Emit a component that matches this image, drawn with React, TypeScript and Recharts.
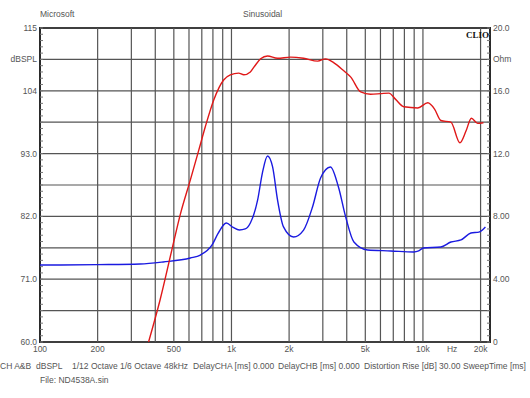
import React from "react";
import {
  LineChart,
  Line,
  XAxis,
  YAxis,
  ReferenceLine,
  ReferenceArea,
} from "recharts";

// SPL response (red), dBSPL on the left axis
const splFreq = [
  369, 424, 488, 541, 610, 675, 730, 808, 910, 986, 1090, 1160, 1255, 1320,
  1420, 1543, 1740, 2035, 2380, 2820, 3100, 3430, 3860, 4200, 4730, 5330, 6000,
  6640, 7200, 7950, 9400, 10600, 11500, 12400, 14000, 15600, 16800, 17900,
  19300, 20700,
];
const splValues = [
  60.0, 67.4, 76.1, 82.4, 88.4, 93.6, 97.7, 102.4, 105.9, 106.8, 107.1, 106.8,
  107.3, 108.3, 109.6, 110.1, 109.7, 109.9, 109.7, 109.2, 109.6, 108.9, 107.5,
  106.4, 103.8, 103.4, 103.5, 103.6, 102.5, 101.2, 101.0, 101.9, 100.8, 98.8,
  98.5, 94.9, 97.0, 99.2, 98.3, 98.4,
];

// impedance (blue), Ohm on the right axis
const impFreq = [
  100, 200, 333, 440, 610, 688, 792, 850, 940, 1020, 1100, 1180, 1255, 1370,
  1450, 1543, 1640, 1740, 1870, 2110, 2380, 2650, 2920, 3290, 3620, 3950, 4360,
  5140, 6800, 8950, 9500, 10060, 12400, 14000, 15800, 17800, 19600, 21200,
];
const impValues = [
  4.9, 4.93, 4.97, 5.1, 5.35, 5.54, 6.18, 6.9, 7.58, 7.3, 7.13, 7.2, 7.58,
  9.05, 10.76, 11.85, 11.15, 9.05, 7.33, 6.69, 7.13, 8.6, 10.45, 11.15, 9.87,
  7.96, 6.37, 5.86, 5.8, 5.73, 5.8, 5.99, 6.05, 6.37, 6.5, 6.94, 7.0, 7.33,
];

const xTicks = [100, 200, 500, 1000, 2000, 5000, 10000, 14200, 20000];
const xLabels = ["100", "200", "500", "1k", "2k", "5k", "10k", "Hz", "20k"];
const xGrid = [
  200, 300, 400, 500, 600, 700, 800, 900, 1000, 2000, 3000, 4000, 5000, 6000,
  7000, 8000, 9000, 10000, 20000,
];

const dbTicks = [60, 65.5, 71, 76.5, 82, 87.5, 93, 98.5, 104, 109.5, 115];
const dbLabels = ["60.0", "", "71.0", "", "82.0", "", "93.0", "", "104", "dBSPL", "115"];
const ohmTicks = [0, 2, 4, 6, 8, 10, 12, 14, 16, 18, 20];
const ohmLabels = ["0", "", "4.00", "", "8.00", "", "12.0", "", "16.0", "Ohm", "20.0"];

// small inward ticks, five per grid division
const dbMinor = Array.from({ length: 51 }, (_, i) => 60 + i * 1.1);
const ohmMinor = Array.from({ length: 51 }, (_, i) => i * 0.4);

const infoItems = [
  { text: "CH A&B", left: 0 },
  { text: "dBSPL", left: 36 },
  { text: "1/12 Octave", left: 72 },
  { text: "1/6 Octave", left: 120 },
  { text: "48kHz", left: 164 },
  { text: "DelayCHA [ms] 0.000", left: 193 },
  { text: "DelayCHB [ms] 0.000", left: 278 },
  { text: "Distortion Rise [dB] 30.00", left: 364 },
  { text: "SweepTime [ms]", left: 463 },
];

const splData = splFreq.map((f, i) => ({ f, v: splValues[i] }));
const impData = impFreq.map((f, i) => ({ f, v: impValues[i] }));

const font = '"Liberation Sans", Arial, sans-serif';
const textColor = "#555";
const gridColor = "#555";
const tickStyle = { fontSize: 8.5, fill: textColor, fontFamily: font };

function lookup(ticks: number[], labels: string[]) {
  return (v: number) => {
    const i = ticks.findIndex((t) => Math.abs(t - v) < 1e-6);
    return i >= 0 ? labels[i] : "";
  };
}

export default function App() {
  const txt = (left: number, top: number, s: string, extra = {}) => (
    <div
      key={s}
      style={{
        position: "absolute",
        left,
        top,
        fontSize: 8.5,
        lineHeight: "10px",
        color: textColor,
        whiteSpace: "nowrap",
        fontFamily: font,
        ...extra,
      }}
    >
      {s}
    </div>
  );

  return (
    <div
      style={{
        position: "absolute",
        left: 0,
        top: 0,
        width: 530,
        height: 398,
        background: "#fff",
        overflow: "hidden",
      }}
    >
      <LineChart
        width={530}
        height={398}
        margin={{ top: 28, right: 0, bottom: 26, left: 0 }}
      >
        <XAxis
          dataKey="f"
          type="number"
          scale="log"
          domain={[100, 22400]}
          allowDataOverflow
          ticks={xTicks}
          tickFormatter={lookup(xTicks, xLabels)}
          tick={tickStyle}
          tickLine={false}
          axisLine={false}
          tickSize={0}
          tickMargin={4}
          height={30}
          interval={0}
        />
        <YAxis
          yAxisId="db"
          orientation="left"
          domain={[60, 115]}
          ticks={dbMinor}
          tickFormatter={lookup(dbTicks, dbLabels)}
          tick={tickStyle}
          tickLine={{ stroke: "#777" }}
          axisLine={false}
          tickSize={-3}
          tickMargin={6}
          width={40}
          interval={0}
          allowDataOverflow
        />
        <YAxis
          yAxisId="ohm"
          orientation="right"
          domain={[0, 20]}
          ticks={ohmMinor}
          tickFormatter={lookup(ohmTicks, ohmLabels)}
          tick={tickStyle}
          tickLine={{ stroke: "#777" }}
          axisLine={false}
          tickSize={-3}
          tickMargin={6}
          width={40}
          interval={0}
          allowDataOverflow
        />
        {dbTicks.map((v) => (
          <ReferenceLine
            key={"h" + v}
            y={v}
            yAxisId="db"
            stroke={gridColor}
            strokeWidth={1.2}
          />
        ))}
        {xGrid.map((f) => (
          <ReferenceLine
            key={"v" + f}
            x={f}
            yAxisId="db"
            stroke={gridColor}
            strokeWidth={1.2}
          />
        ))}
        <Line
          yAxisId="ohm"
          data={impData}
          dataKey="v"
          type="monotone"
          stroke="#1a1ae0"
          strokeWidth={1.4}
          dot={false}
          isAnimationActive={false}
        />
        <Line
          yAxisId="db"
          data={splData}
          dataKey="v"
          type="monotone"
          stroke="#e01818"
          strokeWidth={1.4}
          dot={false}
          isAnimationActive={false}
        />
        <ReferenceArea
          yAxisId="db"
          x1={100}
          x2={22400}
          y1={60}
          y2={115}
          fill="none"
          fillOpacity={0}
          stroke="#2a2a2a"
          strokeWidth={2}
        />
      </LineChart>
      {txt(40, 9, "Microsoft")}
      {txt(243, 9, "Sinusoidal")}
      {txt(466, 30, "CLIO", {
        fontFamily: '"Liberation Serif", "DejaVu Serif", serif',
        fontWeight: "bold",
        color: "#111",
        fontSize: 9,
      })}
      {infoItems.map((it) => txt(it.left, 361, it.text))}
      {txt(40, 375, "File: ND4538A.sin")}
    </div>
  );
}
